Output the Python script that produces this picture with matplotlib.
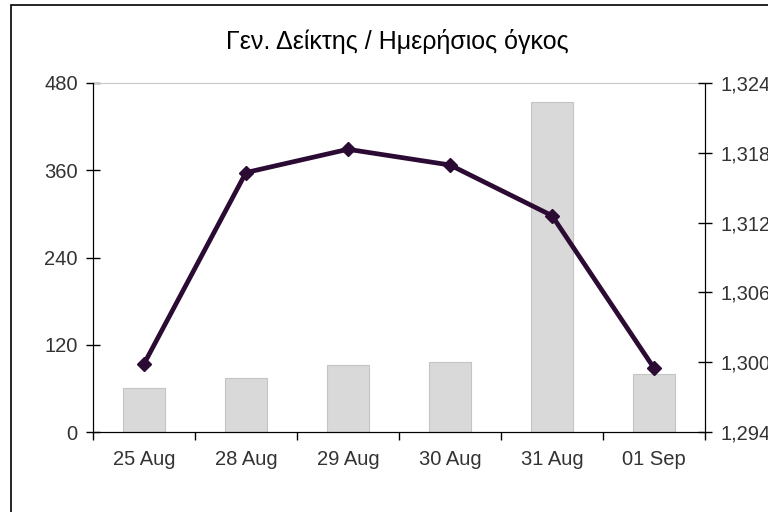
import matplotlib
matplotlib.use('Agg')
from matplotlib import pyplot as plt
from matplotlib.patches import Rectangle
from matplotlib.ticker import FuncFormatter, FixedLocator

plt.rcParams['font.family'] = ['Liberation Sans', 'DejaVu Sans']

# data
dates = ['25 Aug', '28 Aug', '29 Aug', '30 Aug', '31 Aug', '01 Sep']
volume = [60, 74, 92, 96, 454, 80]
index_level = [1299.85, 1316.3, 1318.3, 1316.95, 1312.6, 1299.5]

txt = '#333333'
fig = plt.figure(figsize=(7.68, 5.12), dpi=100)
ax = fig.add_axes([0.121, 0.156, 0.797, 0.682])
x = list(range(len(dates)))

ax.bar(x, volume, width=0.41, color='#d9d9d9', edgecolor='#c4c4c4', linewidth=0.8, zorder=2)
ax.set_xlim(-0.5, 5.5)
ax.set_ylim(0, 480)
ax.set_yticks([0, 120, 240, 360, 480])
ax.set_xticks(x)
ax.set_xticklabels(dates)
ax.xaxis.set_minor_locator(FixedLocator([i - 0.5 for i in range(7)]))
ax.tick_params(axis='x', which='major', length=0, pad=13, labelsize=14.5, labelcolor=txt)
ax.tick_params(axis='x', which='minor', length=6, direction='out', width=1)
ax.tick_params(axis='y', direction='inout', length=10, width=1, labelsize=14.5, labelcolor=txt, pad=6)
ax.spines['top'].set_color('#c8c8c8')
for s in ['left', 'bottom', 'right']:
    ax.spines[s].set_color('black')

ax2 = ax.twinx()
ax2.plot(x, index_level, color='#2b0a33', linewidth=3.4, marker='D', markersize=7, zorder=3)
ax2.set_ylim(1294, 1324)
ax2.set_yticks([1294, 1300, 1306, 1312, 1318, 1324])
ax2.yaxis.set_major_formatter(FuncFormatter(lambda v, p: '{:,.0f}'.format(v)))
ax2.tick_params(axis='y', direction='inout', length=10, width=1, labelsize=14.5, labelcolor=txt, pad=6)
ax2.spines['top'].set_visible(False)
ax2.spines['right'].set_color('black')

fig.text(0.517, 0.918, 'Γεν. Δείκτης / Ημερήσιος όγκος', ha='center', va='center', fontsize=18, color='black')

fig.patches.append(Rectangle((0.0143, -0.2), 1.5, 1.19, transform=fig.transFigure,
                             fill=False, edgecolor='black', linewidth=1.2))

fig.savefig('out.png', dpi=100)
